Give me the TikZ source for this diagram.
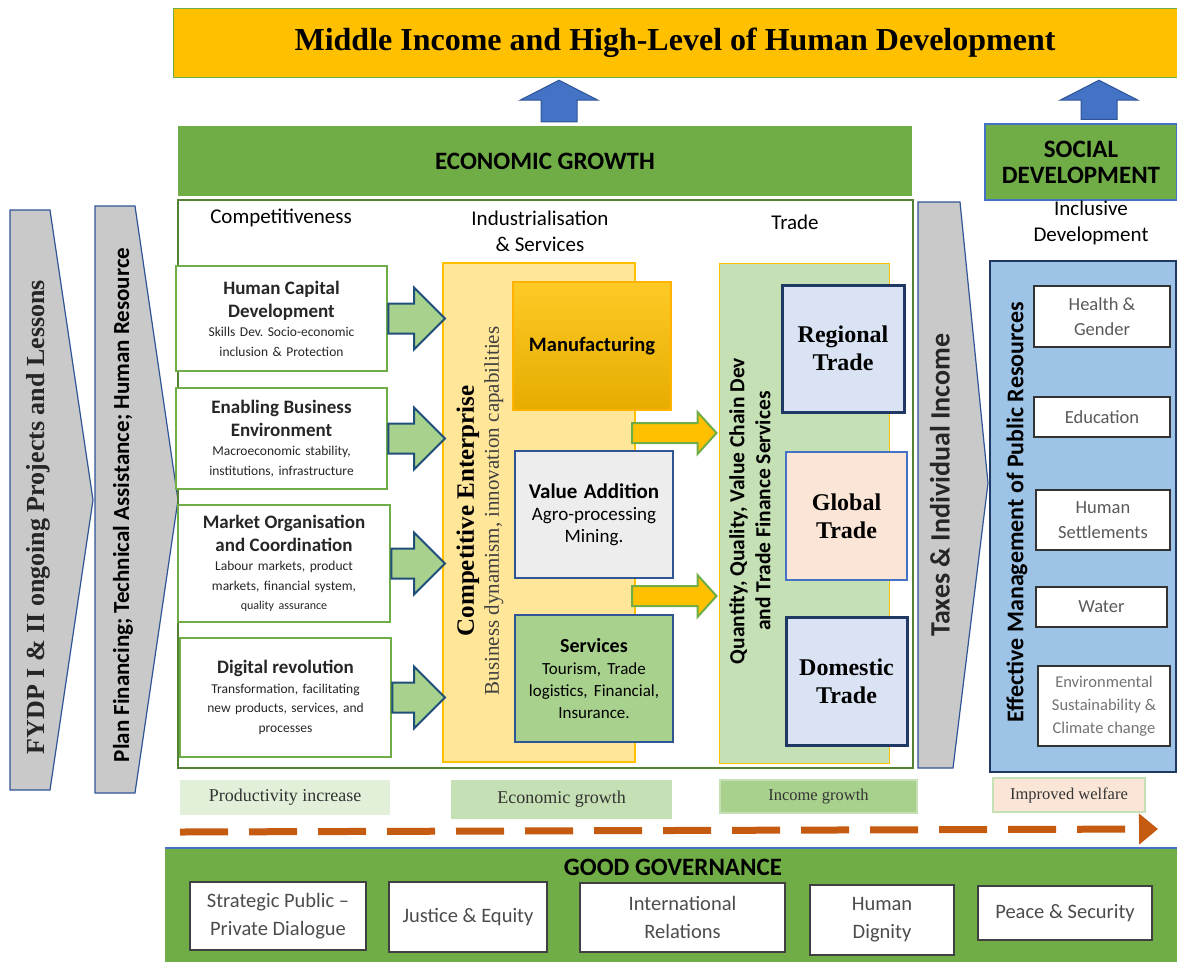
\documentclass[tikz,border=0pt]{standalone}
\usepackage{fontspec}
\setmainfont{Liberation Serif}
\setsansfont{Carlito}
\usetikzlibrary{calc,arrows.meta}
\definecolor{gold}{HTML}{FFC000}
\definecolor{leaf}{HTML}{70AD47}
\definecolor{darkleaf}{HTML}{548235}
\definecolor{sage}{HTML}{A9D18E}
\definecolor{palesage}{HTML}{C5E0B4}
\definecolor{mint}{HTML}{E2F0D9}
\definecolor{cream}{HTML}{FFE699}
\definecolor{navy}{HTML}{1F3864}
\definecolor{royal}{HTML}{4472C4}
\definecolor{steel}{HTML}{2F5597}
\definecolor{ink}{HTML}{1F4E79}
\definecolor{ice}{HTML}{DAE3F3}
\definecolor{peach}{HTML}{FBE5D6}
\definecolor{sky}{HTML}{9DC3E6}
\definecolor{rust}{HTML}{C55A11}
\definecolor{fog}{HTML}{C9C9C9}
\definecolor{silver}{HTML}{EDEDED}
\definecolor{slate}{HTML}{595959}
\begin{document}
\begin{tikzpicture}[x=1pt,y=-1pt,
  compbox/.style={draw=leaf, line width=2.5pt, fill=white, text width=206pt, align=center, inner sep=0pt, font=\sffamily\fontsize{13.5}{19.5}\selectfont, text=black!85},
  sectbox/.style={draw=steel, line width=2pt, text width=152pt, align=center, inner sep=0pt, font=\sffamily\fontsize{19}{22}\selectfont},
  tradebox/.style={draw=navy, line width=3pt, fill=ice, align=center, font=\bfseries\fontsize{24}{28}\selectfont},
  sdbox/.style={draw=black!80, line width=1.2pt, fill=white, align=center, inner sep=0pt, text=slate, font=\sffamily\fontsize{18.5}{25}\selectfont},
  govbox/.style={draw=black!75, line width=1.5pt, fill=white, align=center, inner sep=0pt, text=black!70, font=\sffamily\fontsize{20.5}{28}\selectfont},
  lblbox/.style={inner sep=0pt, font=\fontsize{18}{20}\selectfont, text=black!80},
  chev/.style={draw=steel, line width=1.2pt, fill=fog},
  garrow/.style={draw=ink, line width=2pt, fill=sage},
  yarrow/.style={draw=leaf, line width=2pt, fill=gold},
  barrow/.style={draw=steel, line width=1pt, fill=royal},
  hdr/.style={font=\sffamily\fontsize{21}{26}\selectfont, align=center}
]
\useasboundingbox (0,0) rectangle (1177,962);
% top goal
\node[draw=leaf, fill=gold, minimum width=1004pt, minimum height=69pt] (title) at (675,42.5)
  {\bfseries\fontsize{32}{36}\selectfont Middle Income and High-Level of Human Development};
\node[fill=leaf, minimum width=734pt, minimum height=70pt, font=\sffamily\bfseries\fontsize{25}{28}\selectfont] (econ) at (545,161) {ECONOMIC GROWTH};
\node[draw=royal, line width=1.5pt, fill=leaf, minimum width=192pt, minimum height=76pt, align=center, font=\sffamily\bfseries\fontsize{25}{26}\selectfont] (social) at (1081,162) {SOCIAL\\DEVELOPMENT};
\foreach \ax/\an in {559/econ,1099/social}
  \draw[barrow] ($(\an.north -| \ax,0)+(-18,-4)$) -- ($(title.south -| \ax,0)+(-18,23)$) -- ($(title.south -| \ax,0)+(-39,23)$) -- ($(title.south -| \ax,0)+(0,3)$) -- ($(title.south -| \ax,0)+(39,23)$) -- ($(title.south -| \ax,0)+(18,23)$) -- ($(\an.north -| \ax,0)+(18,-4)$) -- cycle;

% left chevrons
\draw[chev] (10,210) -- (50,210) -- (93,500) -- (50,790) -- (10,790) -- cycle;
\node[rotate=90, font=\bfseries\fontsize{26}{28}\selectfont, text=black!85] (fydp) at (38,517) {FYDP I \& II ongoing Projects and Lessons};
\draw[chev] (95,206) -- (135,206) -- (178,500) -- (135,793) -- (95,793) -- cycle;
\node[rotate=90, font=\sffamily\bfseries\fontsize{23}{26}\selectfont] (pfin) at (123,505) {Plan Financing; Technical Assistance; Human Resource};

% economic growth frame
\node[draw=darkleaf, line width=2pt, minimum width=735pt, minimum height=568pt] (egframe) at (545.5,484) {};
\node[hdr] (comp) at (281,218) {Competitiveness};
\node[hdr] (ind) at (540,231) {Industrialisation\\\& Services};
\node[hdr] (trd) at (795,222) {Trade};

\node[compbox, minimum width=211pt, minimum height=105pt] (hcd) at (281.5,318.5)
  {{\bfseries\fontsize{19}{23}\selectfont Human Capital\\Development\par}Skills Dev.\ Socio-economic\\inclusion \& Protection};
\node[compbox, minimum width=211pt, minimum height=101pt] (ebe) at (281.5,438.5)
  {{\bfseries\fontsize{19}{23}\selectfont Enabling Business\\Environment\par}Macroeconomic stability,\\institutions, infrastructure};
\node[compbox, minimum width=212pt, minimum height=117pt] (moc) at (284,563.5)
  {{\bfseries\fontsize{19}{23}\selectfont Market Organisation\\and Coordination\par}Labour markets, product\\markets, financial system,\\{\fontsize{12}{18}\selectfont quality assurance}};
\node[compbox, minimum width=211pt, minimum height=119pt] (dgr) at (285.5,697.5)
  {{\bfseries\fontsize{19}{24}\selectfont Digital revolution\par}Transformation, facilitating\\new products, services, and\\processes};

% industrialisation
\node[draw=gold, line width=2pt, fill=cream, minimum width=192pt, minimum height=499pt] (ce) at (539,512.5) {};
\node[rotate=90, align=center, font=\fontsize{22}{25}\selectfont] (cetxt) at (480,511)
  {{\bfseries\fontsize{25}{25}\selectfont Competitive Enterprise}\\{\fontsize{21}{25}\selectfont\color{black!75} Business dynamism, innovation capabilities}};
\node[sectbox, draw=gold!80!orange, top color=gold!85!white, bottom color=gold!90!black, minimum width=158pt, minimum height=128pt, font=\sffamily\bfseries\fontsize{20.5}{24}\selectfont] (manu) at (592,346) {Manufacturing};
\node[sectbox, fill=silver, minimum width=158pt, minimum height=127pt] (va) at (594,514.5)
  {{\bfseries\fontsize{21}{25}\selectfont Value Addition\par}Agro-processing\\Mining.};
\node[sectbox, fill=sage, minimum width=158pt, minimum height=127pt] (serv) at (594,678.5)
  {{\bfseries\fontsize{20}{24}\selectfont Services\par}\fontsize{17}{22}\selectfont Tourism, Trade\\logistics, Financial,\\Insurance.};

\foreach \b in {hcd,ebe,moc,dgr}
  \draw[garrow] ($(\b.east)+(0,-15)$) -- ($(ce.west |- \b.east)+(-28,-15)$) -- ($(ce.west |- \b.east)+(-28,-31)$) -- ($(ce.west |- \b.east)+(3,0)$) -- ($(ce.west |- \b.east)+(-28,31)$) -- ($(ce.west |- \b.east)+(-28,15)$) -- ($(\b.east)+(0,15)$) -- cycle;

% trade
\node[draw=gold, line width=1pt, fill=palesage, minimum width=170pt, minimum height=500pt] (tp) at (804,513) {};
\node[rotate=90, align=center, font=\sffamily\bfseries\fontsize{21.5}{26}\selectfont] (qty) at (750,511)
  {Quantity, Quality, Value Chain Dev\\and Trade Finance Services};
\node[tradebox, minimum width=122pt, minimum height=127pt] (reg) at (843,348.5) {Regional\\Trade};
\node[tradebox, draw=royal, line width=2.5pt, fill=peach, minimum width=121pt, minimum height=128pt] (glob) at (846.5,516) {Global\\Trade};
\node[tradebox, minimum width=121pt, minimum height=128pt] (dom) at (846.5,681) {Domestic\\Trade};

\foreach \yy in {433,596}
  \draw[yarrow] ($(ce.east |- 0,\yy)+(-4,-10)$) -- ($(tp.west |- 0,\yy)+(-21,-10)$) -- ($(tp.west |- 0,\yy)+(-21,-21)$) -- ($(tp.west |- 0,\yy)+(-2,0)$) -- ($(tp.west |- 0,\yy)+(-21,21)$) -- ($(tp.west |- 0,\yy)+(-21,10)$) -- ($(ce.east |- 0,\yy)+(-4,10)$) -- cycle;

% taxes
\draw[chev] (918,202) -- (960,202) -- (988,483) -- (953,768) -- (918,768) -- cycle;
\node[rotate=90, font=\sffamily\bfseries\fontsize{28}{30}\selectfont, text=black!85] (tax) at (940,485) {Taxes \& Individual Income};

% social development
\node[hdr] (incl) at (1091,223) {Inclusive\\Development};
\node[draw=navy, line width=1.5pt, fill=sky, minimum width=186pt, minimum height=511pt] (rp) at (1083,516.5) {};
\node[rotate=90, font=\sffamily\bfseries\fontsize{24}{26}\selectfont] (emp) at (1017,512) {Effective Management of Public Resources};
\node[sdbox, minimum width=136pt, minimum height=61pt] (hg) at (1102,316.5) {Health \&\\Gender};
\node[sdbox, minimum width=136pt, minimum height=40pt] (edu) at (1102,417) {Education};
\node[sdbox, minimum width=134pt, minimum height=60pt] (hs) at (1103,520) {Human\\Settlements};
\node[sdbox, minimum width=131pt, minimum height=40pt] (wat) at (1101.5,607) {Water};
\node[sdbox, minimum width=132pt, minimum height=80pt, text=black!55, font=\sffamily\fontsize{16.5}{23}\selectfont] (env) at (1104,706) {Environmental\\Sustainability \&\\Climate change};

% outcomes
\node[lblbox, fill=mint, minimum width=210pt, minimum height=35pt] (pi) at (285,797.5) {Productivity increase};
\node[lblbox, fill=palesage, minimum width=221pt, minimum height=39pt] (eg) at (561.5,799.5) {Economic growth};
\node[lblbox, draw=palesage, line width=1.5pt, fill=sage, minimum width=197pt, minimum height=33pt, font=\fontsize{16.5}{18}\selectfont] (ig) at (818.5,796.5) {Income growth};
\node[lblbox, draw=palesage, line width=1.5pt, fill=peach, minimum width=152pt, minimum height=34pt, font=\fontsize{16.5}{18}\selectfont] (iw) at (1069,795) {Improved welfare};
\coordinate (dstart) at (180,832);
\coordinate (dend) at (1158,829);
\draw[rust, line width=7pt, dash pattern=on 48pt off 21pt, -{Triangle[length=19pt,width=30pt]}] (dstart) -- (dend);

% good governance
\node[fill=leaf, minimum width=1012pt, minimum height=114pt] (gg) at (671,905) {};
\draw[royal, line width=1.5pt] (gg.north west) -- (gg.north east);
\node[font=\sffamily\bfseries\fontsize{25}{28}\selectfont] (ggt) at (673,867) {GOOD GOVERNANCE};
\node[govbox, minimum width=176pt, minimum height=68pt] (spd) at (278,916) {Strategic Public –\\Private Dialogue};
\node[govbox, minimum width=158pt, minimum height=70pt] (je) at (468,917) {Justice \& Equity};
\node[govbox, minimum width=205pt, minimum height=69pt] (ir) at (682.5,917.5) {International\\Relations};
\node[govbox, minimum width=144pt, minimum height=70pt] (hd) at (882,920) {Human\\Dignity};
\node[govbox, minimum width=174pt, minimum height=54pt] (ps) at (1065,913) {Peace \& Security};
\end{tikzpicture}
\end{document}
